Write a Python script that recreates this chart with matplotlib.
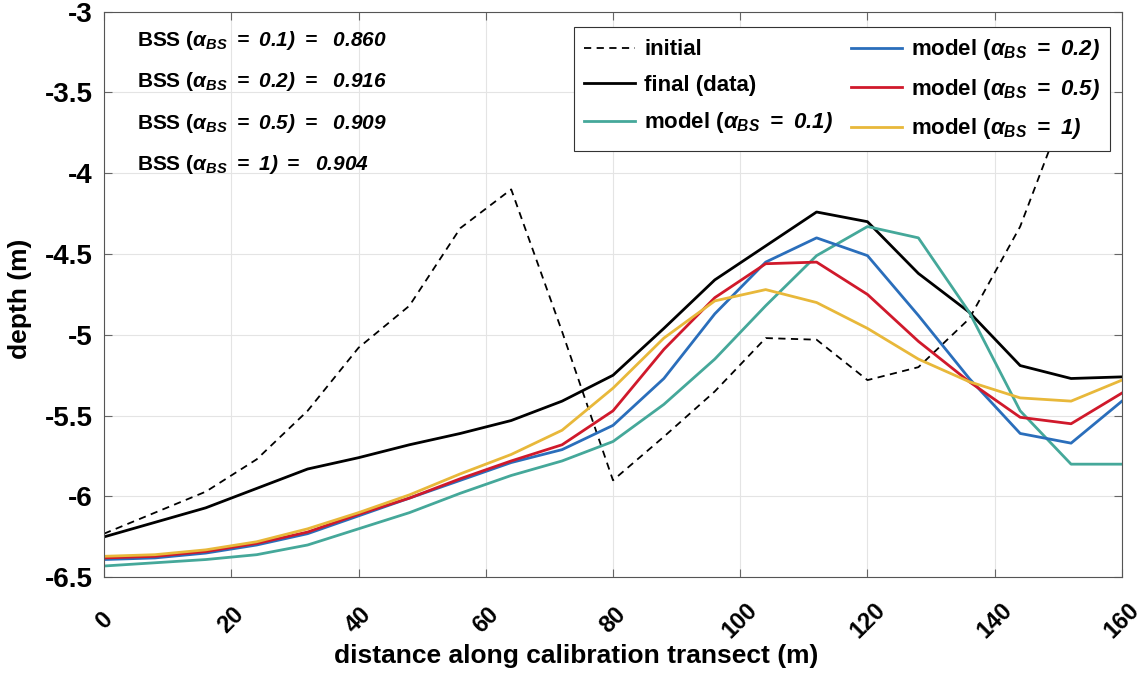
import matplotlib
matplotlib.use("Agg")
import matplotlib.pyplot as plt
import numpy as np

plt.rcParams['font.family'] = ['Liberation Sans', 'DejaVu Sans']
plt.rcParams['font.weight'] = 'bold'
plt.rcParams['mathtext.fontset'] = 'custom'
# MATLAB-style labels: numbers inside the TeX part come out bold italic
plt.rcParams['mathtext.rm'] = 'Liberation Sans:italic:bold'
plt.rcParams['mathtext.it'] = 'Liberation Sans:italic:bold'
plt.rcParams['mathtext.bf'] = 'Liberation Sans:bold'

# cross-shore distance (m), one profile point every 8 m
distance = np.arange(0, 161, 8)

# initial profile has no point at 160 m (line disappears behind the legend)
depth_initial = [-6.23, -6.10, -5.97, -5.77, -5.47, -5.08, -4.82, -4.34, -4.10, -4.98,
                 -5.90, -5.63, -5.35, -5.02, -5.03, -5.28, -5.20, -4.90, -4.33, -3.50, np.nan]
depth_final = [-6.25, -6.16, -6.07, -5.95, -5.83, -5.76, -5.68, -5.61, -5.53, -5.41,
               -5.25, -4.96, -4.66, -4.45, -4.24, -4.30, -4.62, -4.86, -5.19, -5.27, -5.26]
model_01 = [-6.43, -6.41, -6.39, -6.36, -6.30, -6.20, -6.10, -5.98, -5.87, -5.78,
            -5.66, -5.43, -5.15, -4.82, -4.51, -4.33, -4.40, -4.86, -5.47, -5.80, -5.80]
model_02 = [-6.39, -6.38, -6.35, -6.30, -6.23, -6.12, -6.01, -5.90, -5.79, -5.71,
            -5.56, -5.27, -4.87, -4.55, -4.40, -4.51, -4.88, -5.27, -5.61, -5.67, -5.41]
model_05 = [-6.38, -6.37, -6.34, -6.29, -6.22, -6.11, -6.01, -5.89, -5.78, -5.68,
            -5.47, -5.09, -4.77, -4.56, -4.55, -4.75, -5.04, -5.29, -5.51, -5.55, -5.36]
model_1 = [-6.37, -6.36, -6.33, -6.28, -6.20, -6.10, -5.99, -5.86, -5.74, -5.59,
           -5.33, -5.02, -4.79, -4.72, -4.80, -4.96, -5.15, -5.29, -5.39, -5.41, -5.28]

alphas = ['0.1', '0.2', '0.5', '1']
bss = ['0.860', '0.916', '0.909', '0.904']

fig = plt.figure(figsize=(11.43, 6.8), dpi=100)
ax = fig.add_axes([0.091, 0.151, 0.8906, 0.832])

h_init, = ax.plot(distance, depth_initial, color='k', linestyle=(0, (4, 3)), lw=1.3, label='initial')
h_final, = ax.plot(distance, depth_final, color='k', lw=2.0, label='final (data)')

model_colors = ['#45A89A', '#2A6EBB', '#D0192B', '#E8B83A']
model_handles = []
for a, vals, c in zip(alphas, [model_01, model_02, model_05, model_1], model_colors):
    h, = ax.plot(distance, vals, color=c, lw=2.0,
                 label=r'model ($\alpha_{BS}\ =\ %s)$' % a)
    model_handles.append(h)

ax.set_xlim(0, 160)
ax.set_ylim(-6.5, -3)
ax.set_xticks(np.arange(0, 161, 20))
yt = np.arange(-6.5, -2.99, 0.5)
ax.set_yticks(yt)
ax.set_yticklabels(['%g' % v for v in yt])
ax.tick_params(direction='in', top=True, right=True, length=6, color='#666666')
ax.tick_params(axis='y', labelsize=20, pad=8)
ax.tick_params(axis='x', labelsize=17, pad=31)
plt.setp(ax.get_xticklabels(), rotation=45, ha='center', va='center', fontweight='bold')
plt.setp(ax.get_yticklabels(), fontweight='bold')
ax.grid(True, color='#e4e4e4', lw=0.8)
for s in ax.spines.values():
    s.set_color('#555555')
    s.set_linewidth(0.8)

ax.set_xlabel('distance along calibration transect (m)', fontsize=19, fontweight='bold')
ax.xaxis.set_label_coords(0.464, -0.117)
ax.set_ylabel('depth (m)', fontsize=19, fontweight='bold')
ax.yaxis.set_label_coords(-0.071, 0.493)

for i, (a, b) in enumerate(zip(alphas, bss)):
    ax.text(0.0325, 0.940 - i * 0.0735,
            r'BSS ($\alpha_{BS}\ =\ %s)\ =\ \ %s$' % (a, b),
            transform=ax.transAxes, fontsize=15, va='baseline', ha='left')

handles = [h_init, h_final, model_handles[0]] + model_handles[1:]
leg = ax.legend(handles=handles, ncol=2, loc='upper right', bbox_to_anchor=(0.988, 0.972),
                borderaxespad=0, fontsize=16, frameon=True, fancybox=False, framealpha=1,
                edgecolor='#333333', handlelength=2.3, handletextpad=0.4,
                columnspacing=0.8, labelspacing=0.65, borderpad=0.45)
leg.get_frame().set_linewidth(0.8)

fig.savefig('out.png', dpi=100)
